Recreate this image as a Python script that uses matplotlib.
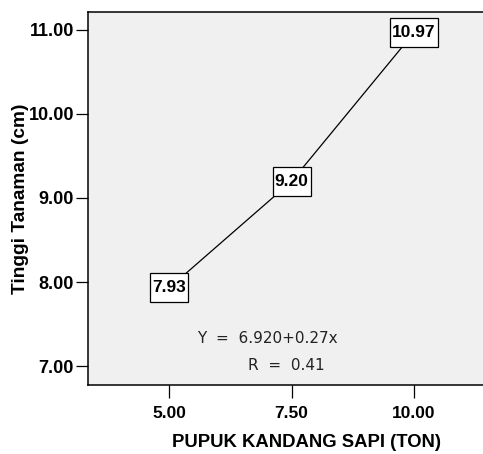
import matplotlib.pyplot as plt
from matplotlib.path import Path

plt.rcParams['font.family'] = ['Liberation Sans', 'DejaVu Sans']

# data
dosis = [5.0, 7.5, 10.0]
tinggi = [7.93, 9.20, 10.97]
x_ticks = [5.0, 7.5, 10.0]
y_ticks = [7.0, 8.0, 9.0, 10.0, 11.0]


def tall_box(x0, y0, width, height, mutation_size):
    # label box: narrow side padding, taller vertical padding
    px = 0.11 * mutation_size
    py = 0.40 * mutation_size
    x0, y0 = x0 - px, y0 - py
    x1, y1 = x0 + width + 2 * px, y0 + height + 2 * py
    return Path([(x0, y0), (x1, y0), (x1, y1), (x0, y1), (x0, y0)], closed=True)


fig = plt.figure(figsize=(4.83, 4.54), dpi=100)
ax = fig.add_axes([88 / 483, 69 / 454, 1.0, 373 / 454])
ax.set_facecolor('#F0F0F0')

ax.plot(dosis, tinggi, color='black', linewidth=0.9)
for x, y in zip(dosis, tinggi):
    ax.text(x, y, '%.2f' % y, ha='center', va='center', fontsize=12.5, fontweight='bold',
            bbox=dict(boxstyle=tall_box, facecolor='white', edgecolor='black', linewidth=0.9))

ax.text(7.0, 7.33, 'Y  =  6.920+0.27x', ha='center', va='center', fontsize=11,
        family='DejaVu Sans', color='#222222')
ax.text(7.4, 7.01, 'R  =  0.41', ha='center', va='center', fontsize=11,
        family='DejaVu Sans', color='#222222')

ax.set_xlim(3.34, 3.34 + 483 / 48.96)
ax.set_ylim(6.774, 11.214)
ax.set_xticks(x_ticks)
ax.set_xticklabels(['%.2f' % t for t in x_ticks])
ax.set_yticks(y_ticks)
ax.set_yticklabels(['%.2f' % t for t in y_ticks])
ax.tick_params(direction='out', length=9, width=0.9, labelsize=12.5, pad=1)
ax.tick_params(axis='y', labelsize=13)
for lab in ax.get_xticklabels() + ax.get_yticklabels():
    lab.set_fontweight('bold')
ax.tick_params(axis='x', pad=6)
for s in ax.spines.values():
    s.set_linewidth(1.1)

ax.set_ylabel('Tinggi Tanaman (cm)', fontsize=13.8, fontweight='bold')
ax.yaxis.set_label_coords((29 - 88) / 483, 0.5)
ax.set_xlabel('PUPUK KANDANG SAPI (TON)', fontsize=13.3, fontweight='bold')
ax.xaxis.set_label_coords((307 - 88) / 483, -0.132)

fig.savefig('out.png', dpi=100)
